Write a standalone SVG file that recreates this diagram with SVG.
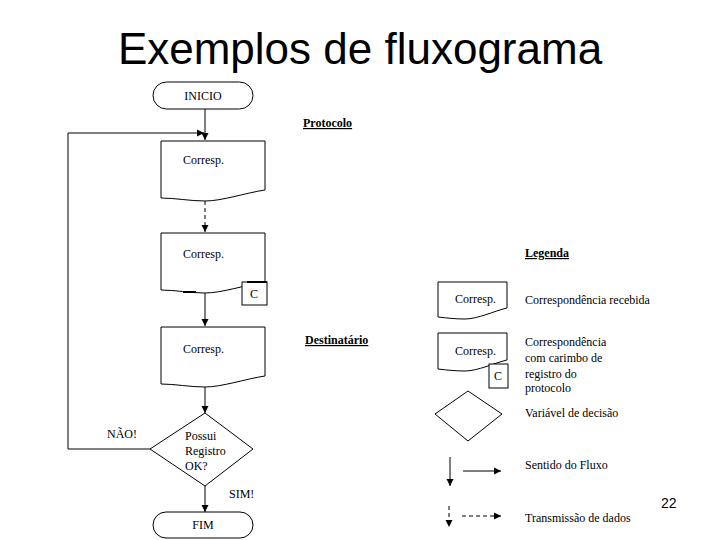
<svg xmlns="http://www.w3.org/2000/svg" width="720" height="540" viewBox="0 0 720 540">
<defs>
<marker id="ah" markerWidth="8" markerHeight="8" refX="7" refY="4" orient="auto" markerUnits="userSpaceOnUse">
<path d="M0,0.5 L7,4 L0,7.5 Z" fill="#000"/>
</marker>
<style>
.t{font-family:"Liberation Serif","Times New Roman",serif;font-size:12px;fill:#000}
.h{font-family:"Liberation Serif","Times New Roman",serif;font-size:12px;font-weight:bold;text-decoration:underline;fill:#000}
.s{fill:#fff;stroke:#000;stroke-width:1}
.c{fill:none;stroke:#000;stroke-width:1}
.d{fill:none;stroke:#000;stroke-width:1;stroke-dasharray:4,3}
</style>
</defs>
<rect width="720" height="540" fill="#fff"/>
<text x="360" y="64" text-anchor="middle" font-family="Liberation Sans, Arial, sans-serif" font-size="44">Exemplos de fluxograma</text>

<g id="connectors">
<line class="c" x1="205" y1="109" x2="205" y2="140" marker-end="url(#ah)"/>
<polyline class="c" points="150,449 68,449 68,133 204,133" marker-end="url(#ah)"/>
<line class="d" x1="205" y1="201" x2="205" y2="232" marker-end="url(#ah)"/>
<line class="c" x1="205" y1="293" x2="205" y2="326" marker-end="url(#ah)"/>
<line class="c" x1="205" y1="387" x2="205" y2="413" marker-end="url(#ah)"/>
<line class="c" x1="205" y1="486" x2="205" y2="512" marker-end="url(#ah)"/>
</g>

<g id="inicio">
<rect class="s" x="153" y="82" width="100" height="27" rx="13.5"/>
<text class="t" x="203" y="100" text-anchor="middle">INICIO</text>
</g>

<g id="doc1">
<path class="s" d="M161,141 H265 V190 C245,193 222,201 205,201 C190,201 175,198 161,198 Z"/>
<text class="t" x="183" y="164">Corresp.</text>
</g>

<g id="doc2">
<path class="s" d="M161,233 H265 V282 C245,285 222,293 205,293 C190,293 175,290 161,290 Z"/>
<line x1="183" y1="292" x2="196" y2="292" stroke="#000" stroke-width="2"/>
<rect class="s" x="242" y="282" width="25" height="23"/>
<line x1="247" y1="282" x2="267" y2="282" stroke="#000" stroke-width="2"/>
<text class="t" x="183" y="258">Corresp.</text>
<text class="t" x="254" y="298" text-anchor="middle">C</text>
</g>

<g id="doc3">
<path class="s" d="M161,327 H265 V376 C245,379 222,387 205,387 C190,387 175,384 161,384 Z"/>
<text class="t" x="183" y="353">Corresp.</text>
</g>

<g id="decisao">
<polygon class="s" points="205,413 253,449 205,486 150,449"/>
<text class="t" x="185" y="440">Possui</text>
<text class="t" x="185" y="455">Registro</text>
<text class="t" x="185" y="470">OK?</text>
</g>

<g id="fim">
<rect class="s" x="153" y="512" width="100" height="26" rx="13"/>
<text class="t" x="203" y="529" text-anchor="middle">FIM</text>
</g>

<g id="labels">
<text class="t" x="107" y="438">NÃO!</text>
<text class="t" x="229" y="498">SIM!</text>
<text class="h" x="303" y="127">Protocolo</text>
<text class="h" x="305" y="344">Destinatário</text>
</g>

<g id="legenda">
<text class="h" x="525" y="257">Legenda</text>
<path class="s" d="M438,282 H507 V308 C494,311 478,319 465,319 C455,319 447,318 438,317 Z"/>
<text class="t" x="455" y="303">Corresp.</text>
<text class="t" x="525" y="304">Correspondência recebida</text>

<path class="s" d="M438,333 H507 V360 C494,363 478,371 465,371 C455,371 447,370 438,369 Z"/>
<rect class="s" x="489" y="364" width="19" height="24"/>
<text class="t" x="455" y="355">Corresp.</text>
<text class="t" x="498" y="380" text-anchor="middle">C</text>
<text class="t" x="525" y="346">Correspondência</text>
<text class="t" x="525" y="362">com carimbo de</text>
<text class="t" x="525" y="378">registro do</text>
<text class="t" x="525" y="392">protocolo</text>

<polygon class="s" points="468,391 502,414 468,441 435,414"/>
<text class="t" x="525" y="417">Variável de decisão</text>

<line class="c" x1="450" y1="457" x2="450" y2="486" marker-end="url(#ah)"/>
<line class="c" x1="463" y1="471" x2="501" y2="471" marker-end="url(#ah)"/>
<text class="t" x="525" y="469">Sentido do Fluxo</text>

<line class="d" x1="449" y1="506" x2="449" y2="527" marker-end="url(#ah)"/>
<line class="d" x1="462" y1="516" x2="501" y2="516" marker-end="url(#ah)"/>
<text class="t" x="525" y="522">Transmissão de dados</text>
</g>

<text x="661" y="508" font-family="Liberation Sans, Arial, sans-serif" font-size="14">22</text>
</svg>
